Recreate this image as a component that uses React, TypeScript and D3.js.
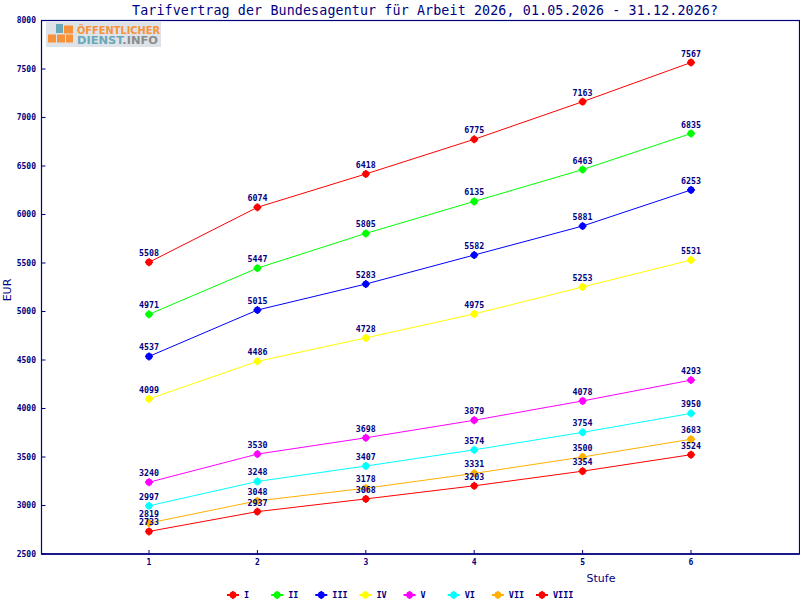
import * as d3 from "d3";

const stufen = [1, 2, 3, 4, 5, 6];
const groups = ["I", "II", "III", "IV", "V", "VI", "VII", "VIII"];
const groupColors = ["#ff0000", "#00ff00", "#0000ff", "#ffff00", "#ff00ff", "#00ffff", "#ffb000", "#ff0000"];

const valuesI = [5508, 6074, 6418, 6775, 7163, 7567];
const valuesII = [4971, 5447, 5805, 6135, 6463, 6835];
const valuesIII = [4537, 5015, 5283, 5582, 5881, 6253];
const valuesIV = [4099, 4486, 4728, 4975, 5253, 5531];
const valuesV = [3240, 3530, 3698, 3879, 4078, 4293];
const valuesVI = [2997, 3248, 3407, 3574, 3754, 3950];
const valuesVII = [2819, 3048, 3178, 3331, 3500, 3683];
const valuesVIII = [2733, 2937, 3068, 3203, 3354, 3524];

const yTicks = [2500, 3000, 3500, 4000, 4500, 5000, 5500, 6000, 6500, 7000, 7500, 8000];

const title = "Tarifvertrag der Bundesagentur für Arbeit 2026, 01.05.2026 - 31.12.2026?";

const NAVY = "#000080";
const MONO = "'DejaVu Sans Mono', 'Liberation Mono', monospace";
const SANS = "'DejaVu Sans', sans-serif";

const width = 800;
const height = 600;
const plot = { left: 41.5, right: 799.5, top: 20.5, bottom: 554 };

// small star marker like the old GD charts
function Marker({ x, y, color }: { x: number; y: number; color: string }) {
  return (
    <g stroke={color} strokeWidth={1.6}>
      <circle cx={x} cy={y} r={2.6} fill={color} />
      <line x1={x - 4} x2={x + 4} y1={y} y2={y} />
      <line x1={x} x2={x} y1={y - 4} y2={y + 4} />
    </g>
  );
}

export default function App() {
  const series = [valuesI, valuesII, valuesIII, valuesIV, valuesV, valuesVI, valuesVII, valuesVIII];

  const x = d3.scaleLinear().domain([0, 7]).range([40.6, 799.4]);
  const y = d3.scaleLinear().domain([2500, 8000]).range([plot.bottom, plot.top]);

  const line = d3
    .line<number>()
    .x((_, i) => x(stufen[i]))
    .y((d) => y(d));

  const legendX = d3.scaleLinear().domain([0, groups.length - 1]).range([233, 542]);

  return (
    <svg
      width={width}
      height={height}
      viewBox={`0 0 ${width} ${height}`}
      style={{ position: "absolute", left: 0, top: 0, display: "block", background: "#fff" }}
    >
      <text x={425} y={15} textAnchor="middle" fontFamily={MONO} fontSize={13.3} fill={NAVY} textLength={586} lengthAdjust="spacing">
        {title}
      </text>

      {/* frame */}
      <rect
        x={plot.left}
        y={plot.top}
        width={plot.right - plot.left}
        height={plot.bottom - plot.top}
        fill="none"
        stroke={NAVY}
        strokeWidth={1.2}
      />
      <line x1={plot.left} x2={plot.right} y1={plot.bottom} y2={plot.bottom} stroke={NAVY} strokeWidth={1.6} />

      {/* logo */}
      <g>
        <rect x={46} y={22} width={115} height={25} fill="#dde3e9" />
        <rect x={56} y={24} width={7} height={9} fill="#6aa9b8" />
        <rect x={64} y={25.5} width={9} height={8} fill="#f7923a" />
        <rect x={48} y={34.5} width={8} height={8} fill="#f7923a" />
        <rect x={57} y={34.5} width={8} height={8} fill="#f7923a" />
        <rect x={66} y={34.5} width={7} height={8} fill="#f7923a" />
        <text x={77} y={33.5} fontFamily={SANS} fontWeight="bold" fontSize={10.5} fill="#f7923a" textLength={83} lengthAdjust="spacingAndGlyphs">
          ÖFFENTLICHER
        </text>
        <text x={77} y={44} fontFamily={SANS} fontWeight="bold" fontSize={10.5} textLength={81} lengthAdjust="spacingAndGlyphs">
          <tspan fill="#6aa9b8">DIENST</tspan>
          <tspan fill="#8c8c8c">.INFO</tspan>
        </text>
      </g>

      {/* y axis */}
      {yTicks.map((t) => (
        <g key={t}>
          <line x1={plot.left} x2={plot.left + 4} y1={y(t)} y2={y(t)} stroke={NAVY} strokeWidth={1} />
          <text x={36} y={y(t)} dy="0.35em" textAnchor="end" fontFamily={MONO} fontWeight="bold" fontSize={8} fill={NAVY}>
            {t}
          </text>
        </g>
      ))}

      {/* x axis */}
      {stufen.map((s) => (
        <g key={s}>
          <line x1={x(s)} x2={x(s)} y1={plot.bottom} y2={plot.bottom - 4} stroke={NAVY} strokeWidth={1} />
          <text x={x(s)} y={565} textAnchor="middle" fontFamily={MONO} fontWeight="bold" fontSize={8} fill={NAVY}>
            {s}
          </text>
        </g>
      ))}

      <text x={601} y={582} textAnchor="middle" fontFamily={SANS} fontSize={11} fill={NAVY}>
        Stufe
      </text>
      <text
        transform={`translate(11,290) rotate(-90)`}
        textAnchor="middle"
        fontFamily={SANS}
        fontSize={11}
        fill={NAVY}
      >
        EUR
      </text>

      {/* series */}
      {series.map((vals, gi) => (
        <g key={groups[gi]}>
          <path d={line(vals) ?? ""} fill="none" stroke={groupColors[gi]} strokeWidth={1} />
        </g>
      ))}
      {series.map((vals, gi) => (
        <g key={groups[gi] + "-m"}>
          {vals.map((v, i) => (
            <g key={i}>
              <Marker x={x(stufen[i])} y={y(v)} color={groupColors[gi]} />
              <text x={x(stufen[i])} y={y(v) - 6} textAnchor="middle" fontFamily={MONO} fontWeight="bold" fontSize={8.3} fill={NAVY}>
                {v}
              </text>
            </g>
          ))}
        </g>
      ))}

      {/* legend */}
      {groups.map((g, gi) => (
        <g key={g}>
          <line x1={legendX(gi) - 6} x2={legendX(gi) + 6} y1={595} y2={595} stroke={groupColors[gi]} strokeWidth={2} />
          <Marker x={legendX(gi)} y={595} color={groupColors[gi]} />
          <text x={legendX(gi) + 11} y={598} fontFamily={MONO} fontWeight="bold" fontSize={8.5} fill={NAVY}>
            {g}
          </text>
        </g>
      ))}
    </svg>
  );
}
